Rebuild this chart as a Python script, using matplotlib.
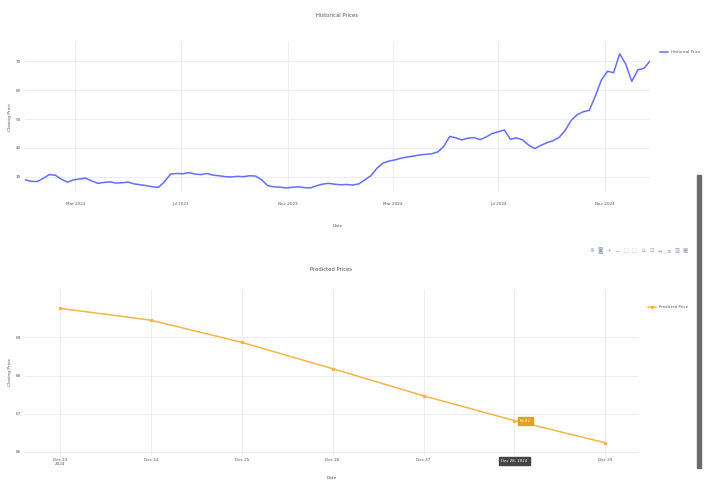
import matplotlib
matplotlib.use("Agg")
import matplotlib.pyplot as plt
import matplotlib.dates as mdates
import numpy as np
import pandas as pd
from matplotlib.patches import Rectangle

# Weekly closing prices
hist_start = "2023-01-02"
hist_prices = [
    29.0, 28.5, 28.4, 29.5, 30.8, 30.6, 29.2, 28.2, 29.0, 29.3,
    29.6, 28.6, 27.8, 28.1, 28.3, 27.9, 28.0, 28.2, 27.6, 27.3,
    27.0, 26.6, 26.4, 28.4, 31.0, 31.2, 31.1, 31.5, 31.0, 30.8,
    31.2, 30.6, 30.4, 30.1, 30.0, 30.2, 30.1, 30.4, 30.3, 29.0,
    27.0, 26.6, 26.5, 26.2, 26.4, 26.6, 26.3, 26.2, 26.9, 27.5,
    27.8, 27.5, 27.3, 27.4, 27.2, 27.6, 29.0, 30.4, 33.0, 34.8,
    35.5, 35.9, 36.5, 36.9, 37.2, 37.6, 37.8, 38.0, 38.6, 40.5,
    44.0, 43.5, 42.8, 43.4, 43.6, 42.9, 43.8, 45.0, 45.6, 46.2,
    43.0, 43.5, 42.8, 41.0, 39.8, 40.9, 41.8, 42.5, 43.6, 46.0,
    49.5, 51.5, 52.5, 53.0, 58.0, 63.5, 66.5, 66.0, 72.5, 69.0,
    63.0, 67.0, 67.5, 70.0,
]
hist_yticks = [30, 40, 50, 60, 70]
hist_xticks = ["2023-03-01", "2023-07-01", "2023-11-01",
               "2024-03-01", "2024-07-01", "2024-11-01"]

# Forecast
pred_dates = ["2024-12-23", "2024-12-24", "2024-12-25", "2024-12-26",
              "2024-12-27", "2024-12-28", "2024-12-29"]
pred_values = [69.76, 69.45, 68.87, 68.18, 67.47, 66.82, 66.24]
pred_xlabels = ["Dec 23\n2024", "Dec 24", "Dec 25", "Dec 26",
                "Dec 27", "Dec 28", "Dec 29"]
pred_yticks = [66, 67, 68, 69]
hover_index = 5

BLUE = "#636efa"
ORANGE = "#f5b54a"
GRID = "#e8edf4"
TXT = "#555555"

W, H = 706, 483
fig = plt.figure(figsize=(W / 100, H / 100), dpi=100)
fig.patch.set_facecolor("white")


def px_axes(x0, y0, x1, y1):
    return fig.add_axes([x0 / W, 1 - y1 / H, (x1 - x0) / W, (y1 - y0) / H])


def style(ax):
    ax.set_facecolor("white")
    for s in ax.spines.values():
        s.set_visible(False)
    ax.grid(True, color=GRID, linewidth=0.6)
    ax.set_axisbelow(True)
    ax.tick_params(length=0, labelsize=3, labelcolor=TXT, pad=3)


# ---- Historical prices ----
ax1 = px_axes(25, 42, 650, 192)
style(ax1)
ax1.tick_params(axis="x", pad=7)
hdates = pd.date_range(hist_start, periods=len(hist_prices), freq="7D")
ax1.plot(hdates, hist_prices, color=BLUE, linewidth=1.1, label="Historical Price")
ax1.set_xlim(hdates[0], hdates[-1])
ax1.set_ylim(24.8, 76.6)
ax1.set_yticks(hist_yticks)
ax1.set_xticks(pd.to_datetime(hist_xticks))
ax1.xaxis.set_major_formatter(mdates.DateFormatter("%b %Y"))
ax1.set_xlabel("Date", fontsize=3.2, color=TXT, labelpad=13)
ax1.set_ylabel("Closing Price", fontsize=3.2, color=TXT)
ax1.yaxis.set_label_coords(-13 / 625, 0.5)
ax1.set_title("Historical Prices", fontsize=3.8, color=TXT, pad=18)
ax1.legend(loc="upper left", bbox_to_anchor=(1.01, 0.97), frameon=False,
           fontsize=2.8, handlelength=2.2, labelcolor=TXT)

# ---- Predicted prices ----
ax2 = px_axes(25, 290, 638, 455)
style(ax2)
ax2.tick_params(axis="x", pad=2)
pdates = pd.to_datetime(pred_dates)
ax2.plot(pdates, pred_values, color=ORANGE, linewidth=1.1, marker="o",
         markersize=1.6, label="Predicted Price")
ax2.set_xlim(pdates[0] - pd.Timedelta(hours=9.2), pdates[-1] + pd.Timedelta(hours=8.6))
ax2.set_ylim(65.92, 70.24)
ax2.set_yticks(pred_yticks)
ax2.set_xticks(pdates)
# the hover box below the axis takes the place of this tick's label
xlabels = list(pred_xlabels)
xlabels[hover_index] = ""
ax2.set_xticklabels(xlabels)
ax2.set_xlabel("Date", fontsize=3.2, color=TXT, labelpad=7)
ax2.set_ylabel("Closing Price", fontsize=3.2, color=TXT)
ax2.yaxis.set_label_coords(-13 / 613, 0.5)
ax2.set_title("Predicted Prices", fontsize=3.8, color=TXT, pad=14)
ax2.legend(loc="upper left", bbox_to_anchor=(1.01, 0.93), frameon=False,
           fontsize=2.8, handlelength=2.2, labelcolor=TXT)

# hover labels on one forecast point
hx, hy = pdates[hover_index], pred_values[hover_index]
ax2.annotate(f"{hy:.2f}", (hx, hy), xytext=(4, 0), textcoords="offset points",
             fontsize=2.8, color="white", va="center", ha="left",
             bbox=dict(boxstyle="square,pad=0.5", fc="#e0a020", ec="#e0a020"))
ax2.annotate(hx.strftime("%b %d, %Y"), (hx, ax2.get_ylim()[0]), xytext=(0, -3),
             textcoords="offset points", fontsize=2.8, color="white",
             va="top", ha="center",
             bbox=dict(boxstyle="square,pad=0.5", fc="#444444", ec="#444444"))

# toolbar glyphs above the second chart
icons = ["⊕", "◙", "+", "−", "⬚", "⬚", "⌂", "⊡", "↔", "≡", "▥", "▦"]
for i, g in enumerate(icons):
    fig.text((592 + i * 8.5) / W, 1 - 251 / H, g, fontsize=4, color="#9aa5b5",
             ha="center", va="center", family=["DejaVu Sans"])

# page scrollbar
fig.patches.append(Rectangle((697 / W, 1 - 468 / H), 4 / W, 293 / H,
                             transform=fig.transFigure, color="#6b6b6b"))

fig.savefig("out.png", dpi=100, facecolor="white")
